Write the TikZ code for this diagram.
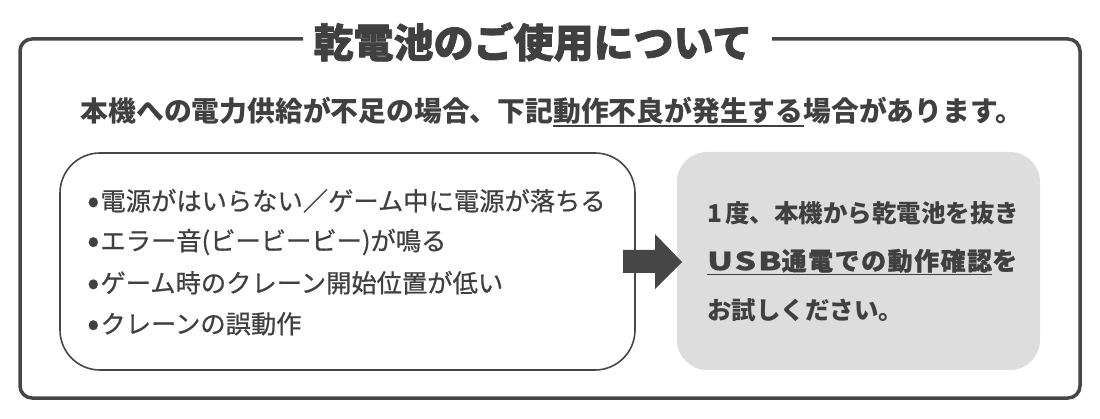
\documentclass[tikz,border=0pt]{standalone}
\usepackage{fontspec}
\setmainfont{Noto Sans CJK JP}
\newfontfamily\cjk{Noto Sans CJK JP}
\newfontfamily\cjkmed{Noto Sans CJK JP}[FakeBold=0.7]
\newfontfamily\cjkstrong{Noto Sans CJK JP}[BoldFeatures={FakeBold=0.9}]
\newfontfamily\cjkheavy{Noto Sans CJK JP}[BoldFeatures={FakeBold=1.8}]
\definecolor{ink}{HTML}{404040}
\definecolor{framec}{HTML}{464646}
\definecolor{pale}{HTML}{DDDDDD}
\newcommand\myul[1]{\setbox0\hbox{#1}\rlap{\rule[-5pt]{\wd0}{1.5pt}}\box0}
\newcommand\bul{{\fontsize{36}{36}\selectfont\raisebox{-2.5pt}{•}}\kern1pt}
\begin{document}
\begin{tikzpicture}[x=1pt,y=-1pt,
  txt/.style={inner sep=0pt, text=ink},
  item/.style={txt, anchor=west, font=\cjkmed\fontsize{25.3}{25.3}\selectfont},
  hint/.style={txt, anchor=west, font=\cjk\bfseries\fontsize{24.5}{24.5}\selectfont}]
\useasboundingbox (0,0) rectangle (1100,419);
% outer frame with gap for the title
\draw[framec, line width=3.5pt, rounded corners=12pt]
  (303,39) -- (20,39) -- (20,398) -- (1080,398) -- (1080,39) -- (772,39);
\node[txt, font=\cjkheavy\bfseries\fontsize{40}{40}\selectfont] (title) at (533,42) {乾電池のご使用について};
\node[txt, font=\cjk\bfseries\fontsize{27.8}{27.8}\selectfont] (sub) at (552,112)
  {本機への電力供給が不足の場合、下記\myul{動作不良が発生する}場合があります。};
% left box
\node[draw=framec, line width=1.6pt, rounded corners=40pt, minimum width=575pt, minimum height=217pt] (L) at (347.5,261.5) {};
\node[item] (l1) at (87,201) {\bul 電源がはいらない／ゲーム中に電源が落ちる};
\node[item] (l2) at (87,242) {\bul エラー音(ビービービー)が鳴る};
\node[item] (l3) at (87,283) {\bul ゲーム時のクレーン開始位置が低い};
\node[item] (l4) at (87,324) {\bul クレーンの誤動作};
% right box
\node[fill=pale, rounded corners=30pt, minimum width=363pt, minimum height=218pt] (R) at (858.5,261) {};
\node[hint] (r1) at (707,213) {1\kern3pt 度、本機から乾電池を抜き};
\node[hint, font=\cjkstrong\bfseries\fontsize{25}{25}\selectfont\addfontfeature{LetterSpace=6}] (r2) at (707,262)
  {\myul{\scalebox{1.35}[1]{USB}通電での動作確認}を};
\node[hint] (r3) at (707,310) {お試しください。};
% block arrow
\fill[framec] (623,250) -- (655,250) -- (655,234) -- (682,262) -- (655,289) -- (655,273) -- (623,273) -- cycle;
\end{tikzpicture}
\end{document}
